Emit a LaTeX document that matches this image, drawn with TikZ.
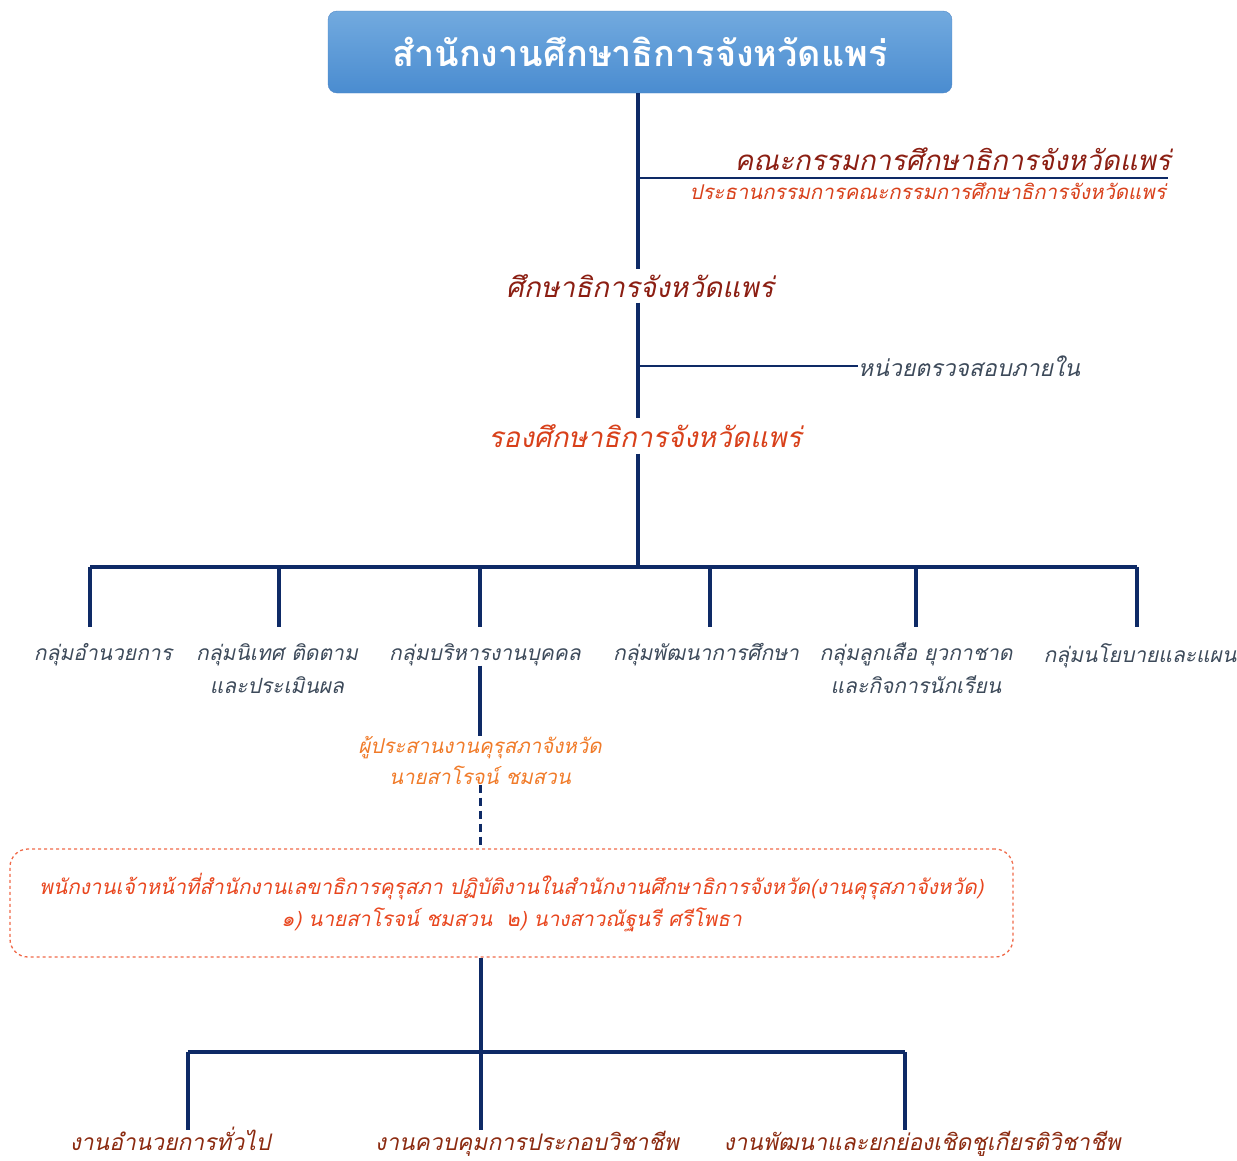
\documentclass[tikz,border=0pt]{standalone}
\usepackage{fontspec}
\newfontfamily\thaifont[Script=Thai]{Loma}
\usepackage{tikz}
\usetikzlibrary{positioning, calc}
\definecolor{NavyLine}{HTML}{0E2A66}
\definecolor{HeadTop}{HTML}{72AADF}
\definecolor{HeadBot}{HTML}{4A8CD0}
\definecolor{HeadEdge}{HTML}{4F86C6}
\definecolor{DarkRed}{HTML}{8B1E12}
\definecolor{RedOrange}{HTML}{D8401A}
\definecolor{SlateText}{HTML}{3D4A5A}
\definecolor{CoordOrange}{HTML}{F07A28}
\definecolor{BoxRed}{HTML}{E8461E}
\definecolor{BoxEdge}{HTML}{F06A4A}
\definecolor{WorkBrown}{HTML}{8B2A10}
\tikzset{
  orgline/.style  = {draw=NavyLine, line width=4pt},
  thinline/.style = {draw=NavyLine, line width=2.6pt},
  headbox/.style  = {rectangle, rounded corners=9pt, draw=HeadEdge,
                     top color=HeadTop, bottom color=HeadBot, text=white,
                     font=\thaifont\bfseries\fontsize{36}{40}\selectfont,
                     minimum width=624pt, minimum height=82pt},
  chieftxt/.style = {inner sep=0pt, text=DarkRed, minimum height=33pt,
                     font=\thaifont\itshape\fontsize{28}{32}\selectfont},
  deputytxt/.style= {chieftxt, text=RedOrange, minimum height=35pt},
  cmttxt/.style   = {inner sep=1pt, text=DarkRed,
                     font=\thaifont\itshape\fontsize{27.7}{31}\selectfont},
  chairtxt/.style = {inner sep=1pt, text=RedOrange,
                     font=\thaifont\itshape\fontsize{20.4}{24}\selectfont},
  grptxt/.style   = {inner sep=0pt, align=center, text=SlateText,
                     font=\thaifont\itshape\fontsize{21}{33}\selectfont},
  audittxt/.style = {grptxt, font=\thaifont\itshape\fontsize{23}{27}\selectfont},
  coordtxt/.style = {grptxt, text=CoordOrange,
                     font=\thaifont\itshape\fontsize{20.5}{31}\selectfont},
  councilbox/.style = {rectangle, rounded corners=18pt, draw=BoxEdge,
                     dashed, line width=1.3pt, align=center, text=BoxRed,
                     font=\thaifont\itshape\fontsize{20.7}{32}\selectfont,
                     minimum width=1003pt, minimum height=108pt},
  worktxt/.style  = {inner sep=0pt, text=WorkBrown,
                     font=\thaifont\itshape\fontsize{22.8}{26}\selectfont},
}
\begin{document}
\begin{tikzpicture}[x=1pt, y=-1pt]
  \useasboundingbox (0,0) rectangle (1237,1160);
  % top of the chart
  \node[headbox] (office) at (640,52) {สำนักงานศึกษาธิการจังหวัดแพร่};
  \node[chieftxt] (chief) at (640,286) {ศึกษาธิการจังหวัดแพร่};
  \node[deputytxt] (deputy) at (645,436) {รองศึกษาธิการจังหวัดแพร่};
  \coordinate (spine) at (638,567);
  \draw[orgline] (office.south -| spine) -- (chief.north -| spine);
  \draw[orgline] (chief.south -| spine) -- (deputy.north -| spine);
  \draw[orgline] (deputy.south -| spine) -- (spine);

  % committee and audit branches
  \coordinate (cmtjoin) at (638,178);
  \coordinate (cmtend) at (1168,178);
  \node[cmttxt, anchor=south east] (cmt) at (1172,172)
    {คณะกรรมการศึกษาธิการจังหวัดแพร่};
  \node[chairtxt, anchor=north east] (chair) at (1167,182)
    {ประธานกรรมการคณะกรรมการศึกษาธิการจังหวัดแพร่};
  \draw[thinline] (cmtjoin) -- (cmtend);
  \coordinate (auditjoin) at (638,366);
  \node[audittxt, anchor=west] (audit) at (858,366) {หน่วยตรวจสอบภายใน};
  \draw[thinline] (auditjoin) -- (audit.west);

  % the six groups
  \foreach \gname/\dx/\tx/\gtext in {
      admin/90/103/{กลุ่มอำนวยการ},
      super/279/277/{กลุ่มนิเทศ ติดตาม\\และประเมินผล},
      staff/480/485/{กลุ่มบริหารงานบุคคล},
      devel/710/706/{กลุ่มพัฒนาการศึกษา},
      scout/916/916/{กลุ่มลูกเสือ ยุวกาชาด\\และกิจการนักเรียน},
      plan/1137/1140/{กลุ่มนโยบายและแผน}}
  {
    \coordinate (\gname-top) at (\dx,627);
    \node[grptxt, anchor=north] (\gname) at (\tx,643) {\gtext};
    \draw[orgline] (\gname-top |- spine) -- (\gname-top);
  }
  \draw[orgline] (admin-top |- spine) -- (plan-top |- spine);

  % teachers council coordinator
  \node[coordtxt, anchor=north] (coord) at (480,736)
    {ผู้ประสานงานคุรุสภาจังหวัด\\นายสาโรจน์ ชมสวน};
  \draw[orgline] (staff.south -| staff-top) -- (coord.north -| staff-top);
  \node[councilbox] (council) at (511.5,903)
    {พนักงานเจ้าหน้าที่สำนักงานเลขาธิการคุรุสภา ปฏิบัติงานในสำนักงานศึกษาธิการจังหวัด(งานคุรุสภาจังหวัด)\\
     ๑) นายสาโรจน์ ชมสวน\ \ ๒) นางสาวณัฐนรี ศรีโพธา};
  \draw[orgline, line width=3pt, dash pattern=on 8pt off 5pt]
    (coord.south -| staff-top) -- (council.north -| staff-top);

  % council work sections
  \coordinate (workbar) at (481,1052);
  \draw[orgline, line width=3.5pt] (council.south -| workbar) -- (workbar);
  \foreach \wname/\dx/\tx/\wtext in {
      general/188/170/{งานอำนวยการทั่วไป},
      control/481/527/{งานควบคุมการประกอบวิชาชีพ},
      honour/905/922/{งานพัฒนาและยกย่องเชิดชูเกียรติวิชาชีพ}}
  {
    \coordinate (\wname-top) at (\dx,1130);
    \node[worktxt, anchor=base] (\wname) at (\tx,1150) {\wtext};
    \draw[orgline, line width=3.5pt] (\wname-top |- workbar) -- (\wname-top);
  }
  \draw[orgline, line width=3.5pt] (general-top |- workbar) -- (honour-top |- workbar);
\end{tikzpicture}
\end{document}
